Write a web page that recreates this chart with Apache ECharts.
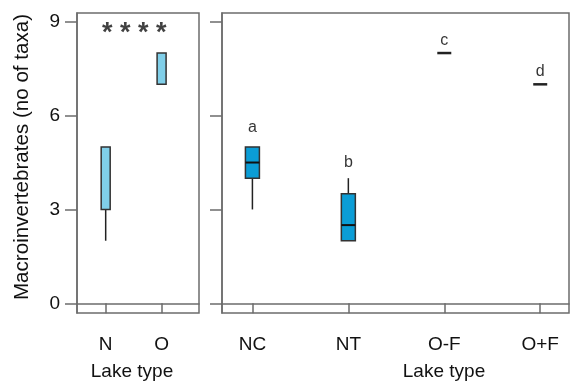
<!DOCTYPE html>
<html>
<head>
<meta charset="utf-8">
<script src="https://cdn.jsdelivr.net/npm/echarts@6/dist/echarts.min.js"></script>
<style>
    html, body { margin: 0; padding: 0; background: #fff; }
    #chart { width: 570px; height: 382px; }
</style>
</head>
<body>
<div id="chart"></div>
<script>
    var lakeTypes = ['N', 'O'];
    var lakeSubtypes = ['NC', 'NT', 'O-F', 'O+F'];
    // [min, Q1, median, Q3, max]
    var typeStats = [[2, 3, 3, 5, 5], [7, 7, 7, 8, 8]];
    var subtypeStats = [[3, 4, 4.5, 5, 5], [2, 2, 2.5, 3.5, 4], [8, 8, 8, 8, 8], [7, 7, 7, 7, 7]];
    var yTicks = [0, 3, 6, 9];
    var sigLetters = ['a', 'b', 'c', 'd'];
    var sigLetterY = [5.62, 4.5, 8.4, 7.4];
    var starText = '* * * *';
    var starPos = [1.51, 8.63];

    var font = 'Liberation Sans, Arial, sans-serif';
    var frameColor = '#6c6c6c';
    var textColor = '#111';

    function boxItem(fill, boxW) {
        return function (params, api) {
            var x = api.value(0);
            var lo = api.coord([x, api.value(1)]);
            var q1 = api.coord([x, api.value(2)]);
            var md = api.coord([x, api.value(3)]);
            var q3 = api.coord([x, api.value(4)]);
            var hi = api.coord([x, api.value(5)]);
            var half = boxW / 2;
            var kids = [];
            var wStyle = { stroke: '#222', lineWidth: 1.5 };
            kids.push({ type: 'line', shape: { x1: lo[0], y1: lo[1], x2: q1[0], y2: q1[1] }, style: wStyle });
            kids.push({ type: 'line', shape: { x1: q3[0], y1: q3[1], x2: hi[0], y2: hi[1] }, style: wStyle });
            if (q1[1] - q3[1] > 0.5) {
                kids.push({
                    type: 'rect',
                    shape: { x: q1[0] - half, y: q3[1], width: boxW, height: q1[1] - q3[1] },
                    style: { fill: fill, stroke: '#333', lineWidth: 1.5 }
                });
                // median only shows when it is inside the box
                if (md[1] < q1[1] - 0.5 && md[1] > q3[1] + 0.5) {
                    kids.push({
                        type: 'line',
                        shape: { x1: md[0] - half, y1: md[1], x2: md[0] + half, y2: md[1] },
                        style: { stroke: '#111', lineWidth: 2 }
                    });
                }
            } else {
                kids.push({
                    type: 'line',
                    shape: { x1: md[0] - half, y1: md[1], x2: md[0] + half, y2: md[1] },
                    style: { stroke: '#222', lineWidth: 2.5 }
                });
            }
            return { type: 'group', children: kids };
        };
    }

    function yAxisOf(idx, withLabel) {
        var ax = {
            gridIndex: idx,
            type: 'value',
            min: -0.31,
            max: 9.28,
            axisLine: { show: true, lineStyle: { color: frameColor, width: 1.5 } },
            axisTick: { show: true, length: 12, customValues: yTicks, lineStyle: { color: frameColor, width: 1.5 } },
            axisLabel: {
                show: withLabel,
                customValues: yTicks,
                fontSize: 19,
                fontFamily: font,
                color: textColor,
                margin: 17
            },
            splitLine: { show: false }
        };
        if (withLabel) {
            ax.name = 'Macroinvertebrates (no of taxa)';
            ax.nameLocation = 'middle';
            ax.nameGap = 44;
            ax.nameTextStyle = { fontSize: 20.6, fontFamily: font, color: textColor, padding: [0, 0, 0, 12] };
        }
        return ax;
    }

    function xAxisOf(idx, names, min, max, namePad) {
        var ticks = names.map(function (n, i) { return i + 1; });
        return {
            gridIndex: idx,
            type: 'value',
            min: min,
            max: max,
            axisLine: { show: true, lineStyle: { color: frameColor, width: 1.5 } },
            axisTick: { show: true, length: 10, customValues: ticks, lineStyle: { color: frameColor, width: 1.5 } },
            axisLabel: {
                customValues: ticks,
                fontSize: 19,
                fontFamily: font,
                color: textColor,
                margin: 22,
                formatter: function (v) { return names[Math.round(v) - 1]; }
            },
            splitLine: { show: false },
            name: 'Lake type',
            nameLocation: 'middle',
            nameGap: 49,
            nameTextStyle: { fontSize: 19, fontFamily: font, color: textColor, padding: namePad }
        };
    }

    var myChart = echarts.init(document.getElementById('chart'), null, { renderer: 'canvas' });
    var option = {
        animation: false,
        textStyle: { fontFamily: font },
        grid: [
            { left: 77, top: 13, width: 122, height: 300, show: true, borderColor: frameColor, borderWidth: 1.5, containLabel: false, outerBoundsMode: 'none' },
            { left: 222, top: 13, width: 347, height: 300, show: true, borderColor: frameColor, borderWidth: 1.5, containLabel: false, outerBoundsMode: 'none' }
        ],
        xAxis: [
            xAxisOf(0, lakeTypes, 0.487, 2.669, [0, 12, 0, 0]),
            xAxisOf(1, lakeSubtypes, 0.683, 4.30, [0, 0, 0, 97])
        ],
        yAxis: [yAxisOf(0, true), yAxisOf(1, false)],
        series: [
            {
                type: 'custom',
                xAxisIndex: 0,
                yAxisIndex: 0,
                renderItem: boxItem('#80cfe9', 9),
                encode: { x: 0, y: [1, 2, 3, 4, 5] },
                data: typeStats.map(function (s, i) { return [i + 1].concat(s); })
            },
            {
                type: 'custom',
                xAxisIndex: 1,
                yAxisIndex: 1,
                renderItem: boxItem('#0b9dd6', 14),
                encode: { x: 0, y: [1, 2, 3, 4, 5] },
                data: subtypeStats.map(function (s, i) { return [i + 1].concat(s); })
            },
            {
                type: 'scatter',
                xAxisIndex: 1,
                yAxisIndex: 1,
                symbolSize: 1,
                itemStyle: { color: 'rgba(0,0,0,0)' },
                label: {
                    show: true,
                    position: 'inside',
                    fontSize: 16,
                    fontFamily: font,
                    color: '#000',
                    formatter: function (p) { return sigLetters[p.dataIndex]; }
                },
                data: sigLetters.map(function (l, i) { return [i + 1, sigLetterY[i]]; })
            },
            {
                type: 'scatter',
                xAxisIndex: 0,
                yAxisIndex: 0,
                symbolSize: 1,
                itemStyle: { color: 'rgba(0,0,0,0)' },
                label: {
                    show: true,
                    position: 'inside',
                    fontSize: 27,
                    fontWeight: 'bold',
                    fontFamily: font,
                    color: '#111',
                    formatter: function () { return starText; }
                },
                data: [starPos]
            }
        ]
    };
    myChart.setOption(option);
</script>
</body>
</html>
